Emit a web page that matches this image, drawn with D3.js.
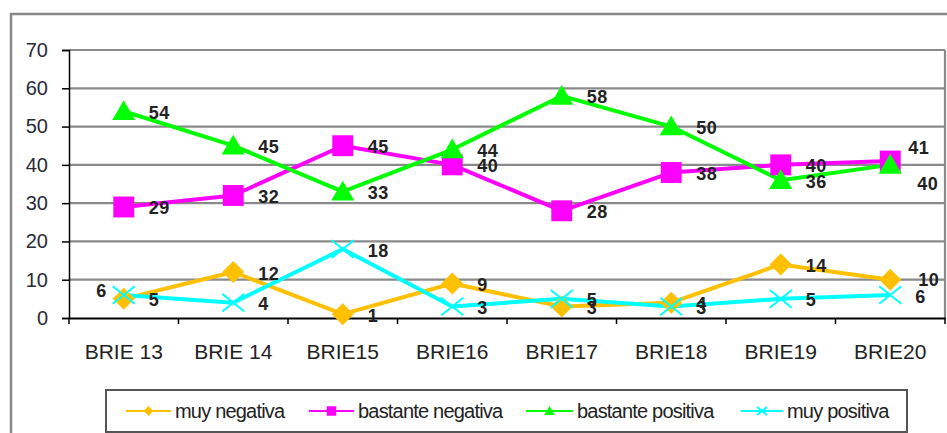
<!DOCTYPE html>
<html><head><meta charset="utf-8">
<script src="https://cdn.jsdelivr.net/npm/d3@7"></script>
<style>body{margin:0;background:#fff}svg{display:block;font-family:Arial,"Liberation Sans",sans-serif}</style>
</head><body><svg id="c" width="947" height="433"></svg>
<script>
const categories = ["BRIE 13","BRIE 14","BRIE15","BRIE16","BRIE17","BRIE18","BRIE19","BRIE20"];
const muyNegativa = [5,12,1,9,3,4,14,10];
const bastanteNegativa = [29,32,45,40,28,38,40,41];
const bastantePositiva = [54,45,33,44,58,50,36,40];
const muyPositiva = [6,4,18,3,5,3,5,6];
const seriesNames = ["muy negativa","bastante negativa","bastante positiva","muy positiva"];
const yTicks = [0,10,20,30,40,50,60,70];

const colors = ["#FFC000","#FF00FF","#00FF00","#00FFFF"];
const shapes = ["diamond","square","triangle","x"];
const seriesVals = [muyNegativa,bastanteNegativa,bastantePositiva,muyPositiva];

const svg = d3.select("#c");
const L=69,R=945,T=50,B=318;
const x = d3.scaleBand().domain(categories).range([L,R]);
const y = d3.scaleLinear().domain([0,70]).range([B,T]);

// outer frame
svg.append("rect").attr("x",11).attr("y",14).attr("width",960).attr("height",450)
  .attr("fill","none").attr("stroke","#888").attr("stroke-width",2.5);

// gridlines
svg.append("g").selectAll("line").data(yTicks.filter(d=>d>0)).join("line")
  .attr("x1",L).attr("x2",R).attr("y1",d=>y(d)).attr("y2",d=>y(d))
  .attr("stroke","#8a8a8a").attr("stroke-width",2.2);
// right border
svg.append("line").attr("x1",R).attr("x2",R).attr("y1",T).attr("y2",B).attr("stroke","#8a8a8a").attr("stroke-width",2.2);

// y axis
const ya = svg.append("g").attr("transform",`translate(${L},0)`)
  .call(d3.axisLeft(y).tickValues(yTicks).tickSize(7).tickPadding(14).tickFormat(d3.format("d")));
ya.select(".domain").attr("stroke","#000").attr("stroke-width",1.5);
ya.selectAll(".tick line").attr("stroke","#000").attr("stroke-width",1.5);
ya.selectAll("text").attr("font-size",20).attr("fill","#2a2a3a").attr("font-family","Arial,'Liberation Sans',sans-serif");

// x axis
const xa = svg.append("g").attr("transform",`translate(0,${B})`)
  .call(d3.axisBottom(x).tickSize(0).tickPadding(0));
xa.select(".domain").attr("stroke","#000").attr("stroke-width",1.8);
xa.selectAll("text").attr("font-size",21).attr("fill","#222").attr("dy",0).attr("y",41)
  .attr("font-family","Arial,'Liberation Sans',sans-serif");
// x tick marks at band boundaries
svg.append("g").selectAll("line").data(categories).join("line")
  .attr("x1",d=>x(d)).attr("x2",d=>x(d)).attr("y1",B).attr("y2",B+6)
  .attr("stroke","#000").attr("stroke-width",1.5);
svg.append("line").attr("x1",R).attr("x2",R).attr("y1",B).attr("y2",B+6).attr("stroke","#000").attr("stroke-width",1.5);

function marker(g, shape, color, s){
  if(shape==="diamond") g.append("path").attr("d",`M0,${-s}L${s},0L0,${s}L${-s},0Z`).attr("fill",color);
  else if(shape==="square") g.append("rect").attr("x",-s*0.95).attr("y",-s*0.95).attr("width",s*1.9).attr("height",s*1.9).attr("fill",color);
  else if(shape==="triangle") g.append("path").attr("d",`M0,${-s}L${s*1.05},${s*0.8}L${-s*1.05},${s*0.8}Z`).attr("fill",color);
  else { g.append("path").attr("d",`M${-s},${-s*0.8}L${s},${s*0.8}M${-s},${s*0.8}L${s},${-s*0.8}`).attr("stroke",color).attr("stroke-width",2).attr("fill","none"); }
}

const line = d3.line().x((d,i)=>x(categories[i])+x.bandwidth()/2).y(d=>y(d));
const cx = i=>x(categories[i])+x.bandwidth()/2;

seriesVals.forEach((vals,si)=>{
  svg.append("path").datum(vals).attr("d",line).attr("fill","none")
    .attr("stroke",colors[si]).attr("stroke-width",4).attr("stroke-linejoin","round");
});
seriesVals.forEach((vals,si)=>{
  vals.forEach((v,i)=>{
    const g = svg.append("g").attr("transform",`translate(${cx(i)},${y(v)})`);
    marker(g, shapes[si], colors[si], 11);
  });
});

// label offsets
const labelAdj = {"3-0":{dx:-17,dy:-5,anchor:"end"},"1-7":{dx:18,dy:-14},"2-7":{dx:27,dy:19},"0-7":{dx:28,dy:0}};
seriesVals.forEach((vals,si)=>{
  vals.forEach((v,i)=>{
    const a = labelAdj[si+"-"+i] || {dx:25,dy:1};
    svg.append("text").attr("x",cx(i)+a.dx).attr("y",y(v)+a.dy).attr("dy","0.36em")
      .attr("text-anchor",a.anchor||"start").attr("font-size",18).attr("font-weight","bold")
      .attr("letter-spacing",0.6).attr("fill","#222").text(v);
  });
});

// legend
svg.append("rect").attr("x",106).attr("y",390).attr("width",801).attr("height",42)
  .attr("fill","#fff").attr("stroke","#555").attr("stroke-width",2);
const legX = [126,309,526,741];
const legW = [45,45,47,42];
seriesNames.forEach((n,si)=>{
  const ly = 411;
  svg.append("line").attr("x1",legX[si]).attr("x2",legX[si]+legW[si]).attr("y1",ly).attr("y2",ly)
    .attr("stroke",colors[si]).attr("stroke-width",2);
  const g = svg.append("g").attr("transform",`translate(${legX[si]+legW[si]/2},${ly})`);
  marker(g, shapes[si], colors[si], 5);
  svg.append("text").attr("x",legX[si]+legW[si]+4).attr("y",ly).attr("dy","0.35em")
    .attr("font-size",20).attr("letter-spacing",-0.8).attr("fill","#222").text(n);
});
</script></body></html>
